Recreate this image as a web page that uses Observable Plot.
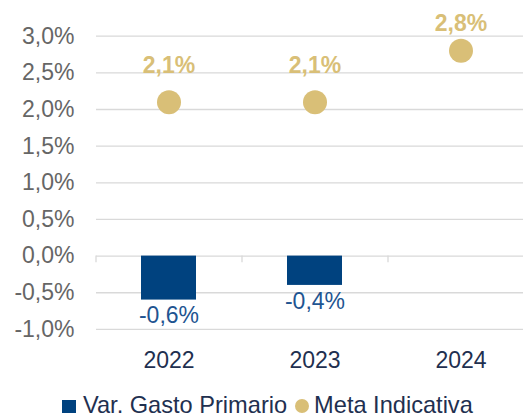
<!DOCTYPE html>
<html>
<head>
<meta charset="utf-8">
<script src="https://cdn.jsdelivr.net/npm/d3@7"></script>
<script src="https://cdn.jsdelivr.net/npm/@observablehq/plot@0.6"></script>
<style>
  html, body { margin: 0; padding: 0; background: #fff; }
  #legend { display: flex; align-items: center; font-family: "Liberation Sans", Arial, sans-serif; font-size: 23.6px; line-height: 1; color: #1f3050; padding-left: 62px; height: 52px; }
  #legend .sq { width: 14px; height: 13px; background: #00427f; margin-right: 7px; }
  #legend .ci { width: 14px; height: 14px; border-radius: 50%; background: #d9bf77; margin: 0 5px 0 8px; }
</style>
</head>
<body>
<div id="chart"></div>
<script>
const years = ["2022", "2023", "2024"];
const gastoYears = ["2022", "2023"];
const gastoValues = [-0.6, -0.4];
const metaYears = ["2022", "2023", "2024"];
const metaValues = [2.1, 2.1, 2.8];
const yTicks = [-1, -0.5, 0, 0.5, 1, 1.5, 2, 2.5, 3];

const fmt = d => d.toFixed(1).replace(".", ",") + "%";
const gasto = gastoYears.map((y, i) => ({year: y, value: gastoValues[i]}));
const meta = metaYears.map((y, i) => ({year: y, value: metaValues[i]}));

const font = "Liberation Sans, Arial, sans-serif";
const metaLabel = {x: "year", y: "value", text: d => fmt(d.value), fill: "#d9bf77", fontSize: 23, fontWeight: "bold"};
const chart = Plot.plot({
  width: 523,
  height: 380,
  marginLeft: 96,
  marginRight: 0,
  marginTop: 35.7,
  marginBottom: 51.1,
  style: {fontFamily: font, fontSize: "23px", background: "#fff"},
  x: {domain: years, range: [96, 534], paddingInner: 0.62, paddingOuter: 0.31, axis: null, label: null},
  y: {domain: [-1, 3], axis: null, label: null},
  marks: [
    Plot.ruleY(yTicks, {stroke: "#d9d9d9", strokeWidth: 1.3}),
    Plot.ruleX(years, {x: d => d, y1: 0, y2: -0.09, dx: -73, stroke: "#d9d9d9", strokeWidth: 1.3}),
    Plot.axisY({ticks: yTicks, tickFormat: fmt, tickSize: 0, tickPadding: 22, fill: "#666666", fontSize: 23, label: null}),
    Plot.axisX({tickSize: 0, tickPadding: 22, fill: "#1f3050", fontSize: 23, label: null}),
    Plot.barY(gasto, {x: "year", y: "value", fill: "#00427f"}),
    Plot.text(gasto, {x: "year", y: "value", text: d => fmt(d.value), dy: 16, fill: "#1f5591", fontSize: 23}),
    Plot.dot(meta, {x: "year", y: "value", r: 12, fill: "#d9bf77", stroke: "none"}),
    Plot.text(meta, {...metaLabel, filter: d => d.value < 2.5, dy: -37}),
    Plot.text(meta, {...metaLabel, filter: d => d.value >= 2.5, dy: -27})
  ]
});
document.getElementById("chart").appendChild(chart);

const legend = document.createElement("div");
legend.id = "legend";
legend.innerHTML = '<span class="sq"></span><span>Var. Gasto Primario</span><span class="ci"></span><span>Meta Indicativa</span>';
document.getElementById("chart").appendChild(legend);
</script>
</body>
</html>
